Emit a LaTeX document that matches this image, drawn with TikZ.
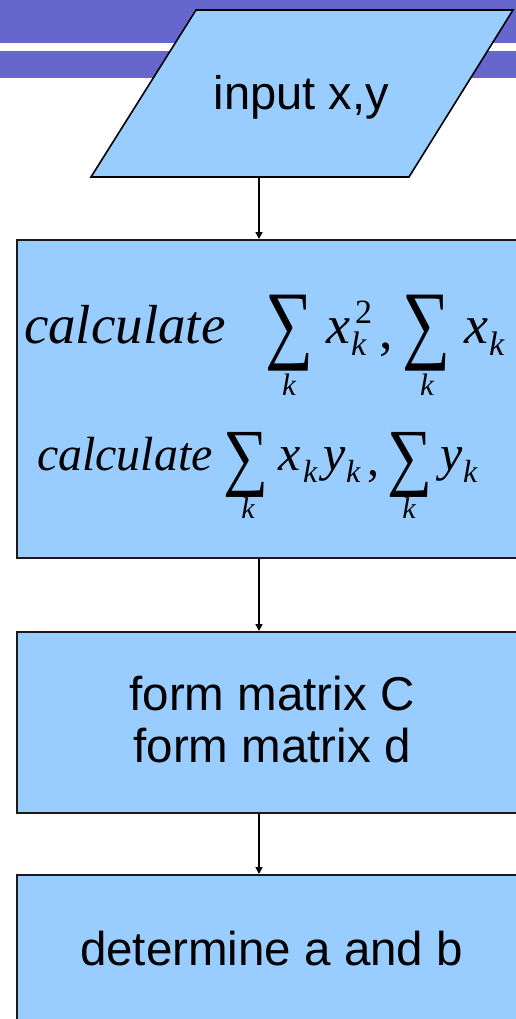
\documentclass[tikz,border=0pt]{standalone}
\usepackage{fontspec}
\usepackage{graphicx}
\setmainfont{Liberation Sans}
\newfontfamily\tnr{Liberation Serif}
\newfontfamily\sigfont{Liberation Serif}
\usetikzlibrary{arrows.meta,calc}
\definecolor{boxblue}{HTML}{99CCFF}
\definecolor{bandc}{HTML}{6666CC}
\definecolor{edgec}{HTML}{1A1A1A}
\newcommand{\fsz}[1]{\fontsize{#1}{#1}\selectfont}
\newcommand{\bigsig}[2]{\resizebox*{#1}{#2}{\sigfont ∑}}
\tikzset{
  flowbox/.style={draw=edgec, fill=boxblue, line width=1.5pt, inner sep=0pt, anchor=north west},
  conn/.style={draw=black, line width=1.5pt, -{Triangle[length=7pt,width=7pt]}},
  plain/.style={inner sep=0pt, outer sep=0pt, text=black},
  mt/.style={plain, font=\tnr\itshape},
}
\begin{document}
\begin{tikzpicture}[x=1pt,y=-1pt]
\useasboundingbox (0,0) rectangle (516,1019);
\clip (0,0) rectangle (516,1019);
% header band
\fill[bandc] (0,0) rectangle (516,43);
\fill[bandc] (0,51) rectangle (516,78);
% input parallelogram
\draw[fill=boxblue, draw=black, line width=1.6pt] (196,10) -- (513,10) -- (409,177) -- (91,177) -- cycle;
\node[plain, anchor=base, font=\fsz{47}] (inp) at (301.5,110) {input x,y};
\coordinate (inb) at (259,177);
% boxes
\node[flowbox, minimum width=530pt, minimum height=318pt] (calc) at (16,239) {};
\node[flowbox, minimum width=530pt, minimum height=181pt] (form) at (16,631) {};
\node[flowbox, minimum width=530pt, minimum height=200pt] (det) at (16,874) {};
% connectors
\draw[conn] (inb) -- (inb |- calc.north);
\draw[conn] (inb |- calc.south) -- (inb |- form.north);
\draw[conn] (inb |- form.south) -- (inb |- det.north);
% line 1 of calc box
\node[mt, anchor=base west] (c1) at (24,343) {\fsz{55}calculate};
\node[plain, anchor=north west] (s1) at (265,295) {\bigsig{48pt}{76pt}};
\node[mt, anchor=base] (k1) at (289,395) {\fsz{31}k};
\node[mt, anchor=base west] (x1) at (326,343) {\fsz{54}x};
\node[plain, font=\tnr, anchor=base west] (sq) at (355,323) {\fsz{34}2};
\node[mt, anchor=base west] (k2) at (351,355) {\fsz{34}k};
\node[plain, font=\tnr, anchor=base west] (cm1) at (379,348) {\fsz{54},};
\node[plain, anchor=north west] (s2) at (402,295) {\bigsig{48pt}{76pt}};
\node[mt, anchor=base] (k3) at (427,395) {\fsz{31}k};
\node[mt, anchor=base west] (x2) at (464,343) {\fsz{54}x};
\node[mt, anchor=base west] (k4) at (489,355) {\fsz{34}k};
% line 2 of calc box
\node[mt, anchor=base west] (c2) at (37,470) {\fsz{48}calculate};
\node[plain, anchor=north west] (s3) at (223,432) {\bigsig{45pt}{65pt}};
\node[mt, anchor=base] (k5) at (248,518) {\fsz{30}k};
\node[mt, anchor=base west] (x3) at (278,470) {\fsz{50}x};
\node[mt, anchor=base west] (k6) at (303,482) {\fsz{32}k};
\node[mt, anchor=base west] (y1) at (323,470) {\fsz{50}y};
\node[mt, anchor=base west] (k7) at (346,482) {\fsz{32}k};
\node[plain, font=\tnr, anchor=base west] (cm2) at (367,475) {\fsz{48},};
\node[plain, anchor=north west] (s4) at (387,432) {\bigsig{45pt}{65pt}};
\node[mt, anchor=base] (k8) at (409,518) {\fsz{30}k};
\node[mt, anchor=base west] (y2) at (440,470) {\fsz{50}y};
\node[mt, anchor=base west] (k9) at (463,482) {\fsz{32}k};
% form box text
\node[plain, anchor=base, font=\fsz{47.5}] (fc) at (272,710) {form matrix C};
\node[plain, anchor=base, font=\fsz{47.5}] (fd) at (272,762) {form matrix d};
% determine box text
\node[plain, anchor=base, font=\fsz{47.5}] (dab) at (271.5,965) {determine a and b};
\end{tikzpicture}
\end{document}
